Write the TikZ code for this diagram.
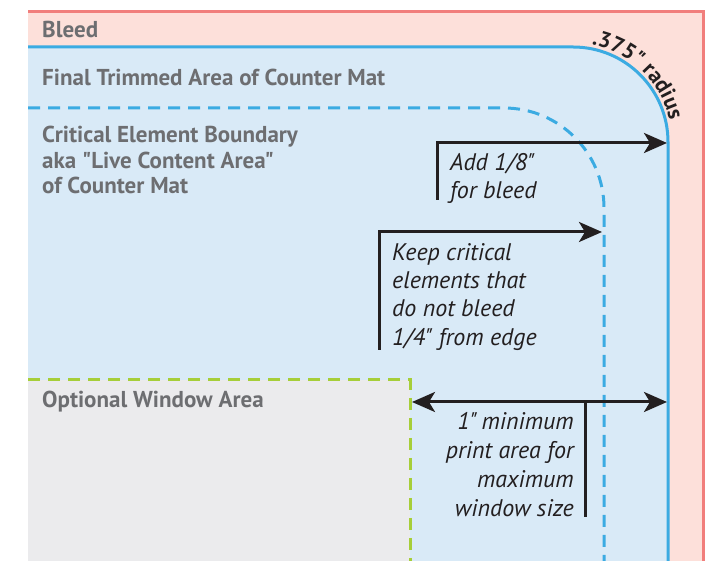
\documentclass[tikz,border=0pt]{standalone}
\usepackage{fontspec}
\setmainfont{PT Sans}[Ligatures=TeXOff]
\usetikzlibrary{arrows.meta,decorations.text}
\definecolor{bleedfill}{HTML}{FDE0DA}
\definecolor{bleedline}{HTML}{F17E7C}
\definecolor{trimfill}{HTML}{D9EAF7}
\definecolor{trimline}{HTML}{3BABE2}
\definecolor{winfill}{HTML}{EBEBED}
\definecolor{winline}{HTML}{A6CE39}
\definecolor{labelgray}{HTML}{6D6E71}
\definecolor{ink}{HTML}{231F20}
\tikzset{
  arealabel/.style={font=\fontsize{23}{25.5}\selectfont\bfseries, text=labelgray, inner sep=0pt, align=left},
  note/.style={font=\fontsize{24}{28.3}\selectfont\itshape, text=ink, inner sep=0pt, align=left},
  arr/.style={draw=ink, line width=3pt, -{Stealth[length=23pt,width=20pt,inset=6pt]}},
  darr/.style={draw=ink, line width=3pt, {Stealth[length=23pt,width=20pt,inset=6pt]}-{Stealth[length=23pt,width=20pt,inset=6pt]}},
  stem/.style={draw=ink, line width=3pt},
}
\begin{document}
\begin{tikzpicture}[x=1pt,y=1pt]
\useasboundingbox (0,0) rectangle (718,561);
% bleed
\fill[bleedfill] (28,0) rectangle (703,549);
\draw[bleedline, line width=3pt] (28,549) -- (703,549) -- (703,0);
% trim
\fill[trimfill] (28,0) -- (28,514) -- (573,514) arc[start angle=90,end angle=0,radius=95] -- (668,0) -- cycle;
\draw[trimline, line width=3pt] (28,514) -- (573,514) arc[start angle=90,end angle=0,radius=95] -- (668,0);
% live area
\draw[trimline, line width=3pt, dash pattern=on 12pt off 8pt] (28,453) -- (504,453) arc[start angle=90,end angle=0,radius=100] -- (604,0);
% window
\fill[winfill] (28,0) rectangle (410,181);
\draw[winline, line width=3pt, dash pattern=on 12pt off 8pt] (28,181) -- (410,181) -- (410,0);
% radius label
\begin{scope}
\fontsize{22}{22}\selectfont\bfseries
\path[decorate, decoration={text along path, text align=center,
  text={|\fontsize{22}{22}\selectfont\bfseries\color{ink}|.375" radius}}]
  (573,419) ++(94:99) arc[start angle=94,end angle=-2,radius=99];
\end{scope}
% labels
\node[arealabel, anchor=base west] (bleed) at (42,523) {Bleed};
\node[arealabel, anchor=base west] (trim) at (42,475) {Final Trimmed Area of Counter Mat};
\node[arealabel, anchor=north west] (live) at (42,435) {Critical Element Boundary\\aka "Live Content Area"\\of Counter Mat};
\node[arealabel, anchor=base west] (win) at (42,153) {Optional Window Area};
% arrow 1
\coordinate (a1s) at (437,361);
\coordinate (a1e) at (667,418);
\draw[arr] (a1s) |- (a1e);
\node[note, anchor=north west] (n1) at (450,408) {Add 1/8"\\for bleed};
% arrow 2
\coordinate (a2s) at (379,211);
\coordinate (a2e) at (602,329);
\draw[arr] (a2s) |- (a2e);
\node[note, anchor=north west] (n2) at (392,318) {Keep critical\\elements that\\do not bleed\\1/4" from edge};
% arrow 3
\coordinate (a3l) at (412,159);
\coordinate (a3r) at (667,159);
\coordinate (a3m) at (585,159);
\coordinate (a3b) at (585,44);
\draw[darr] (a3l) -- (a3r);
\draw[stem] (a3m) -- (a3b);
\node[note, anchor=north east, align=right, font=\fontsize{24}{29}\selectfont\itshape] (n3) at (574,149) {1"\kern-2pt{} minimum\\print area for\\maximum\\window size};
\end{tikzpicture}
\end{document}
